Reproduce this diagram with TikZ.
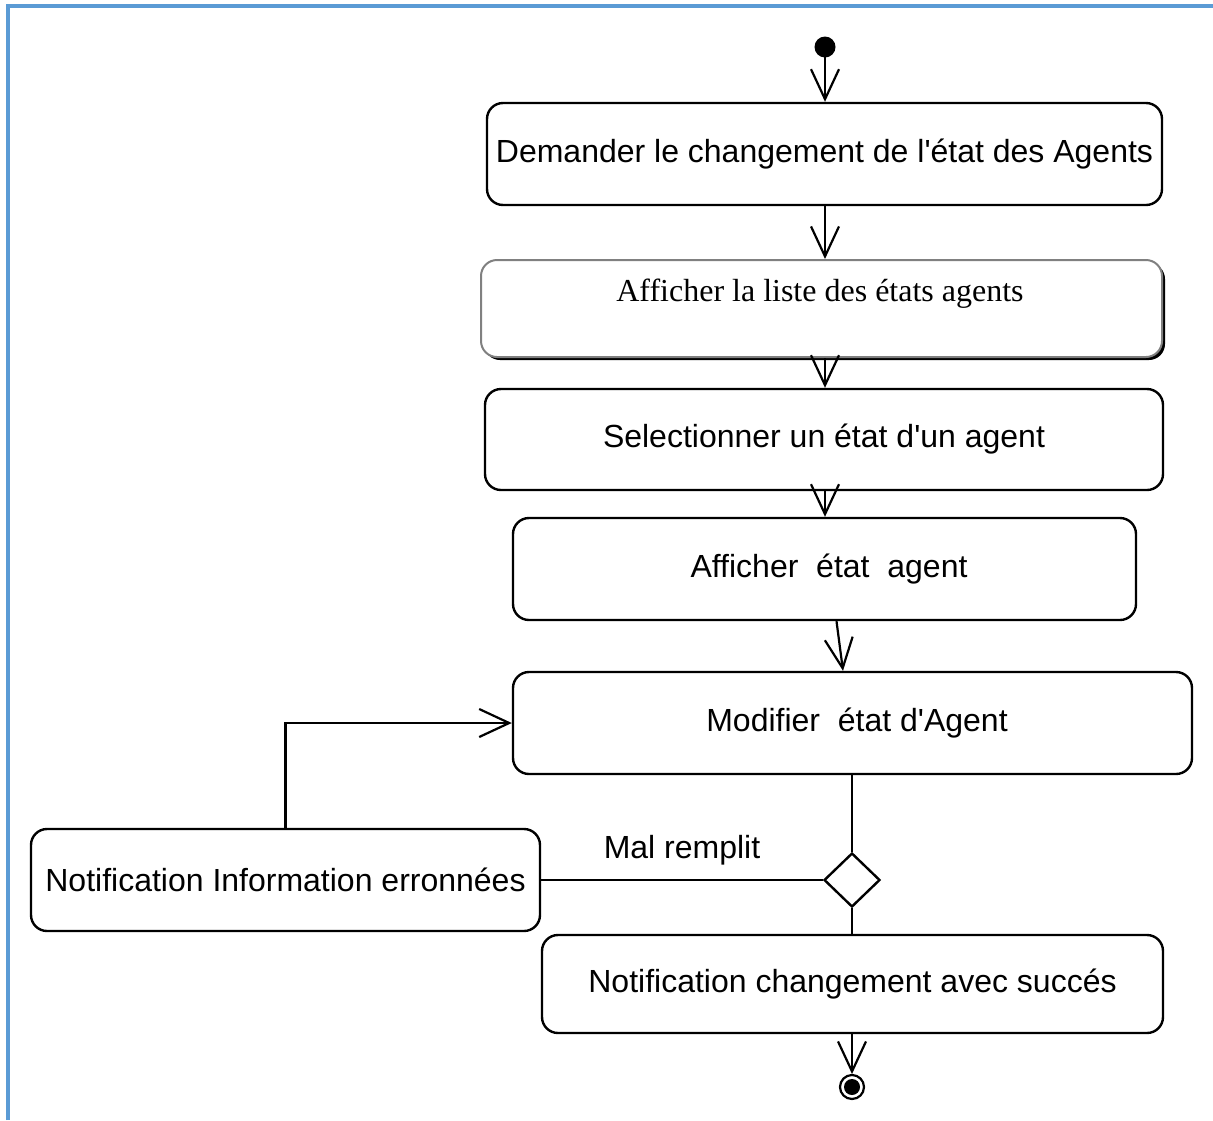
\documentclass[tikz,border=0pt]{standalone}
\usepackage{fontspec}
\setmainfont{Liberation Sans}[Ligatures=TeXOff]
\newfontfamily\timesfont{Liberation Serif}
\usetikzlibrary{arrows.meta,shapes.geometric}
\definecolor{frameblue}{HTML}{5B9BD5}
\begin{document}
\begin{tikzpicture}[x=1pt,y=-1pt,
  font=\fontsize{32}{38}\selectfont,
  action/.style={draw=black,line width=2.4pt,fill=white,rounded corners=16pt,
    inner sep=0pt,align=center},
  flow/.style={line width=2.2pt,-{Straight Barb[length=30pt,width=28pt,line width=2.2pt]}},
  plain/.style={line width=2.2pt},
  choice/.style={draw,diamond,line width=2.4pt,fill=white,minimum width=56pt,
    minimum height=54pt,inner sep=0pt}]
\useasboundingbox (0,0) rectangle (1213,1120);
% frame
\draw[frameblue,line width=4.5pt] (8,1120) -- (8,6) -- (1213,6);

% start node
\fill (825,47) circle (10.5pt) coordinate (start);

% actions
\node[action,minimum width=675pt,minimum height=102pt] (b1) at (824.5,154)
  {Demander le changement de l'état des Agents};

\fill[black,rounded corners=16pt] (484,263) rectangle (1165,360);
\node[action,draw=gray,line width=2pt,minimum width=681pt,minimum height=97pt] (b2) at (821.5,308.5) {};
\node[font=\timesfont\fontsize{32}{38}\selectfont] (t2) at (820,294) {Afficher la liste des états agents};

\node[action,minimum width=678pt,minimum height=101pt] (b3) at (824,439.5)
  {Selectionner un état d'un agent};
\node[action,minimum width=623pt,minimum height=102pt] (b4) at (824.5,569)
  {\hspace*{9pt}Afficher\ \ état\ \ agent};
\node[action,minimum width=679pt,minimum height=102pt] (b5) at (852.5,723)
  {\hspace*{9pt}Modifier\ \ état d'Agent};
\node[choice] (d) at (852,880) {};
\node[action,minimum width=509pt,minimum height=102pt] (b6) at (285.5,880)
  {Notification Information erronnées};
\node[action,minimum width=621pt,minimum height=98pt] (b7) at (852.5,984)
  {Notification changement avec succés};

% final node
\draw[line width=2.2pt,fill=white] (852,1087) circle (12pt);
\fill (852,1087) circle (8pt) coordinate (end);

% control flow
\draw[flow] (start) -- (start |- b1.north);
\draw[flow] (b1.south -| start) -- (start |- b2.north);
\draw[flow] (b2.south -| start) -- (start |- b3.north);
\draw[flow] (b3.south -| start) -- (start |- b4.north);
\draw[flow] ([xshift=12pt]b4.south) -- ([xshift=-9.5pt]b5.north);
\draw[plain] (b5.south -| d) -- (d.north);
\draw[plain] (d.west) -- (d.west -| b6.east) node[midway,above=10pt] {Mal remplit};
\draw[plain] (d.south) -- (b7.north -| d);
\draw[flow] (b6.north) |- (b5.west);
\draw[flow] (b7.south -| end) -- ([yshift=13pt]end);
\end{tikzpicture}
\end{document}
